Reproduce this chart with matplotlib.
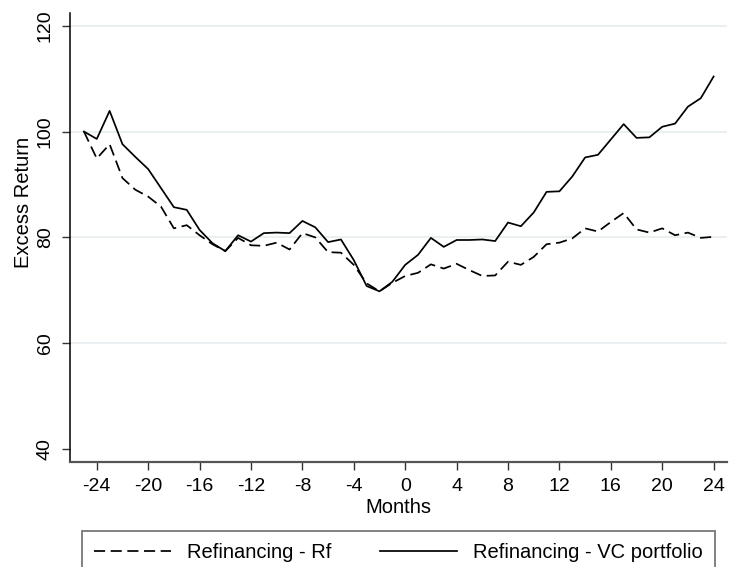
import matplotlib
matplotlib.use("Agg")
import matplotlib.pyplot as plt
import numpy as np

plt.rcParams['font.family'] = ['Liberation Sans', 'DejaVu Sans']
plt.rcParams['lines.scale_dashes'] = False
plt.rcParams['axes.unicode_minus'] = False

months = list(range(-25, 25))
rf = [100.0, 94.9, 97.6, 91.2, 89.0, 87.7, 85.8, 81.7, 82.3, 80.4,
      78.7, 77.4, 79.9, 78.5, 78.4, 79.0, 77.7, 80.8, 80.0, 77.2,
      77.1, 74.8, 71.3, 69.8, 71.4, 72.7, 73.3, 74.9, 74.1, 75.0,
      73.8, 72.7, 72.8, 75.4, 74.8, 76.3, 78.7, 79.0, 79.8, 81.7,
      81.1, 82.9, 84.6, 81.5, 80.9, 81.7, 80.4, 80.9, 79.9, 80.1]
vc = [100.0, 98.6, 103.9, 97.6, 95.2, 92.9, 89.3, 85.7, 85.2, 81.4,
      78.9, 77.4, 80.4, 79.2, 80.8, 80.9, 80.8, 83.1, 81.9, 79.1,
      79.6, 75.7, 70.8, 69.8, 71.6, 74.8, 76.7, 79.9, 78.2, 79.5,
      79.5, 79.6, 79.3, 82.8, 82.1, 84.7, 88.6, 88.7, 91.5, 95.1,
      95.6, 98.5, 101.4, 98.8, 98.9, 100.9, 101.5, 104.7, 106.3, 110.4]
xticks = list(range(-24, 25, 4))
yticks = [40, 60, 80, 100, 120]
grid_vals = [60, 80, 100, 120]
labels = ["Refinancing - Rf", "Refinancing - VC portfolio"]

W, H = 729, 567
fig = plt.figure(figsize=(W / 100, H / 100), dpi=100)
l, r, t, b = 70.3, 727, 13, 461.7
ax = fig.add_axes([l / W, 1 - b / H, (r - l) / W, (b - t) / H])

for g in grid_vals:
    ax.axhline(g, color='#e8eff1', lw=1.3, zorder=0)

l1, = ax.plot(months, rf, color='black', lw=1.25, dashes=(8, 4))
l2, = ax.plot(months, vc, color='black', lw=1.25)

ax.set_xlim(-26.06, 25.04)
ax.set_ylim(37.6, 122.4)
ax.set_xticks(xticks)
ax.set_yticks(yticks)
ax.tick_params(axis='both', length=6, width=1, labelsize=14, color='#333333')
ax.tick_params(axis='x', pad=6)
ax.tick_params(axis='y', pad=6)
for lab in ax.get_yticklabels():
    lab.set_rotation(90)
    lab.set_va('center')

for s in ['top', 'right']:
    ax.spines[s].set_visible(False)
ax.spines['left'].set_color('black')
ax.spines['bottom'].set_color('#555555')
ax.spines['left'].set_linewidth(1.1)
ax.spines['bottom'].set_linewidth(1.6)

ax.set_xlabel("Months", fontsize=14.5, labelpad=2)
ax.set_ylabel("Excess Return", fontsize=14.5)
ax.yaxis.set_label_coords((33 - l) / (r - l), (b - 202) / (b - t))

leg = fig.legend([l1, l2], labels, ncol=2, loc='upper left',
                 bbox_to_anchor=(81.7 / W, 1 - 530.7 / H - 0.05, (715 - 81.7) / W, 0.05),
                 mode='expand', fontsize=14.5, frameon=True, fancybox=False,
                 handlelength=3.8, handletextpad=0.8, borderpad=0.62,
                 columnspacing=1.75, borderaxespad=0)
leg.get_frame().set_edgecolor('#555555')
leg.get_frame().set_linewidth(1.3)

fig.savefig("out.png", dpi=100)
